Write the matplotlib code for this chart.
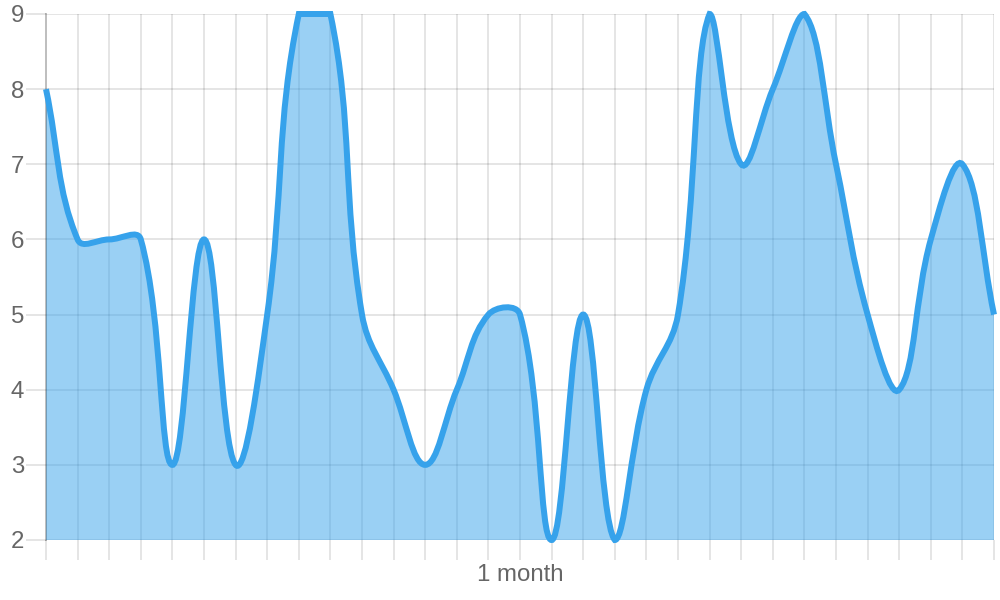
import numpy as np
import matplotlib
matplotlib.use('Agg')
import matplotlib.pyplot as plt
from matplotlib.path import Path
from matplotlib.patches import PathPatch

# ---- data ----
days = list(range(31))
values = [8, 6, 6, 6, 3, 6, 3, 5, 9, 9, 5, 4, 3, 4, 5, 5, 2, 5, 2, 4, 5, 9, 7, 8, 9, 7, 5, 4, 6, 7, 5]
y_ticks = [2, 3, 4, 5, 6, 7, 8, 9]
x_tick_labels = [''] * 15 + ['1 month'] + [''] * 15

# ---- style ----
LINE = '#36A2EB'
FILL = (54/255, 162/255, 235/255, 0.5)
GRID = (0, 0, 0, 0.1)
ZERO = (0, 0, 0, 0.25)
TXT = '#666666'
PX = 0.72  # points per pixel at dpi 100
TENSION = 0.4

plt.rcParams['font.family'] = ['Liberation Sans', 'DejaVu Sans']
fig = plt.figure(figsize=(10, 6), dpi=100)
ax = fig.add_axes([46/1000, 60/600, 948/1000, 526/600])
ax.set_xlim(days[0], days[-1])
ax.set_ylim(y_ticks[0], y_ticks[-1])

ax.set_xticks(days)
ax.set_xticklabels(x_tick_labels)
ax.set_yticks(y_ticks)
ax.set_yticklabels([str(v) for v in y_ticks])

for s in ['top', 'right', 'bottom']:
    ax.spines[s].set_visible(False)
ax.spines['left'].set_color(ZERO)
ax.spines['left'].set_linewidth(2 * PX)

ax.set_axisbelow(True)
ax.grid(True, color='black', alpha=0.1, linewidth=2 * PX)
ax.tick_params(axis='both', length=20 * PX, width=2 * PX, color=GRID,
               labelsize=24 * PX, labelcolor=TXT)
ax.tick_params(axis='y', pad=2 * PX)
ax.tick_params(axis='x', pad=4 * PX)
t0 = ax.xaxis.get_major_ticks()[0]
t0.tick1line.set_color(ZERO)
t0.gridline.set_visible(False)

# ---- bezier spline (tension) computed in pixel space ----
trans = ax.transData
pts = trans.transform(np.column_stack([days, values]).astype(float))
n = len(pts)
bb = ax.bbox
cprev, cnext = [], []
for i in range(n):
    prev = pts[max(i - 1, 0)]
    cur = pts[i]
    nxt = pts[min(i + 1, n - 1)]
    d01 = np.hypot(*(cur - prev))
    d12 = np.hypot(*(nxt - cur))
    tot = d01 + d12
    s01 = d01 / tot if tot else 0.0
    s12 = d12 / tot if tot else 0.0
    fa, fb = TENSION * s01, TENSION * s12
    p = cur - fa * (nxt - prev)
    q = cur + fb * (nxt - prev)
    p = np.array([min(max(p[0], bb.x0), bb.x1), min(max(p[1], bb.y0), bb.y1)])
    q = np.array([min(max(q[0], bb.x0), bb.x1), min(max(q[1], bb.y0), bb.y1)])
    cprev.append(p)
    cnext.append(q)

verts = [pts[0]]
codes = [Path.MOVETO]
for i in range(n - 1):
    verts += [cnext[i], cprev[i + 1], pts[i + 1]]
    codes += [Path.CURVE4] * 3
inv = trans.inverted()
curve_verts = inv.transform(np.array(verts))

fill_verts = np.vstack([curve_verts, [[days[-1], y_ticks[0]], [days[0], y_ticks[0]], [days[0], y_ticks[0]]]])
fill_codes = codes + [Path.LINETO, Path.LINETO, Path.CLOSEPOLY]
ax.add_patch(PathPatch(Path(fill_verts, fill_codes), facecolor=FILL, edgecolor='none', zorder=2))
ax.add_patch(PathPatch(Path(curve_verts, codes), facecolor='none', edgecolor=LINE,
                       linewidth=6 * PX, capstyle='butt', joinstyle='miter', zorder=3, clip_on=False))

fig.savefig('out.png', dpi=100)
